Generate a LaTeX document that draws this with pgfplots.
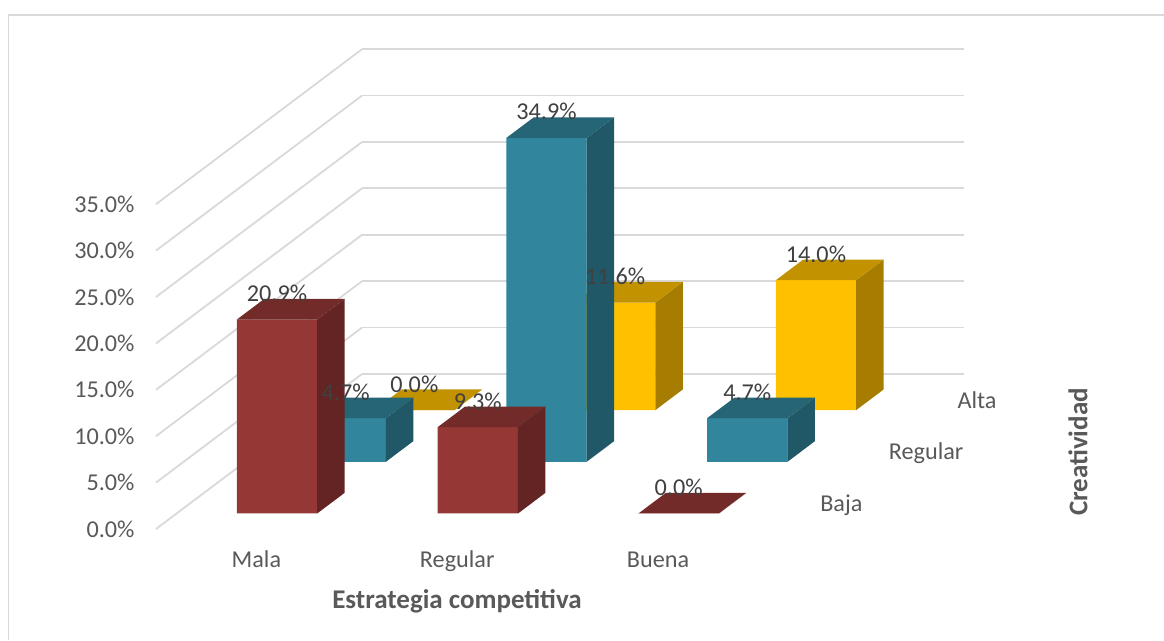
\documentclass[border=0pt]{standalone}
\usepackage{fontspec}
\setmainfont{Carlito}
\usepackage{pgfplots}
\pgfplotsset{compat=1.18}

\definecolor{redfront}{HTML}{953735}
\definecolor{redside}{HTML}{632423}
\definecolor{redtop}{HTML}{722B29}
\definecolor{bluefront}{HTML}{31859C}
\definecolor{blueside}{HTML}{205867}
\definecolor{bluetop}{HTML}{256576}
\definecolor{yellowfront}{HTML}{FFC000}
\definecolor{yellowside}{HTML}{A67D00}
\definecolor{yellowtop}{HTML}{C29200}
\definecolor{labelgray}{HTML}{595959}
\definecolor{valuegray}{HTML}{404040}
\definecolor{wallgray}{HTML}{D9D9D9}

% One block: x from #1 to #2, depth from #3 to #4, height #5, colour prefix #6
\newcommand{\block}[6]{%
  \addplot3[draw=none, fill=#6front, forget plot] coordinates
    {(#1,#3,0) (#2,#3,0) (#2,#3,#5) (#1,#3,#5) (#1,#3,0)};
  \addplot3[draw=none, fill=#6side, forget plot] coordinates
    {(#2,#3,0) (#2,#4,0) (#2,#4,#5) (#2,#3,#5) (#2,#3,0)};
  \addplot3[draw=none, fill=#6top, forget plot] coordinates
    {(#1,#3,#5) (#2,#3,#5) (#2,#4,#5) (#1,#4,#5) (#1,#3,#5)};
}
% Percentage printed above the front face of a block
\newcommand{\valuelabel}[3]{%
  \node[anchor=base, yshift=18pt, text=valuegray, inner sep=0pt,
        font=\fontsize{24.2}{24.2}\selectfont]
    at (axis cs:#1,#2,#3) {\pgfmathprintnumber[fixed, fixed zerofill, precision=1]{#3}\%};
}

\begin{document}
\begin{tikzpicture}[x=1pt,y=1pt]
\useasboundingbox (0,0) rectangle (1164,640);
% Chart frame
\draw[wallgray, line width=1.4pt] (8.7,0) -- (8.7,625) -- (1164,625);

\begin{axis}[
  at={(156pt,111pt)}, anchor=origin,
  x={(200.8pt,0pt)}, y={(68.67pt,51.67pt)}, z={(0pt,9.28pt)},
  xmin=0, xmax=3, ymin=0, ymax=3, zmin=0, zmax=35,
  clip=false,
  axis line style={draw=none},
  tick style={draw=none},
  zmajorgrids=true,
  grid style={wallgray, line width=1.8pt},
  xtick={0.5,1.5,2.5},
  xticklabels={Mala,Regular,Buena},
  ytick={0.5,1.5,2.5},
  yticklabels={Baja,Regular,Alta},
  ztick={0,5,...,35},
  /pgf/number format/assume math mode=true,
  /pgf/number format/fixed,
  /pgf/number format/fixed zerofill,
  /pgf/number format/precision=1,
  zticklabel={\pgfmathprintnumber{\tick}\%},
  ticklabel style={text=labelgray, font=\fontsize{24.2}{24.2}\selectfont},
  xticklabel style={anchor=base, yshift=-38pt},
  yticklabel style={anchor=base west, xshift=24pt, yshift=-8.5pt},
  zticklabel style={anchor=east, xshift=-18pt, yshift=0pt},
]
% Back row: Alta
\block{0.3}{0.7}{2.3}{2.7}{0.0}{yellow}
\block{1.3}{1.7}{2.3}{2.7}{11.6}{yellow}
\block{2.3}{2.7}{2.3}{2.7}{14.0}{yellow}
% Middle row: Regular
\block{0.3}{0.7}{1.3}{1.7}{4.7}{blue}
\block{1.3}{1.7}{1.3}{1.7}{34.9}{blue}
\block{2.3}{2.7}{1.3}{1.7}{4.7}{blue}
% Front row: Baja
\block{0.3}{0.7}{0.3}{0.7}{20.9}{red}
\block{1.3}{1.7}{0.3}{0.7}{9.3}{red}
\block{2.3}{2.7}{0.3}{0.7}{0.0}{red}

\valuelabel{0.5}{2.3}{0.0}
\valuelabel{1.5}{2.3}{11.6}
\valuelabel{2.5}{2.3}{14.0}
\valuelabel{0.5}{1.3}{4.7}
\valuelabel{1.5}{1.3}{34.9}
\valuelabel{2.5}{1.3}{4.7}
\valuelabel{0.5}{0.3}{20.9}
\valuelabel{1.5}{0.3}{9.3}
\valuelabel{2.5}{0.3}{0.0}
\end{axis}

\node[text=labelgray, font=\fontsize{27}{27}\selectfont\bfseries] at (457,39) {Estrategia competitiva};
\node[text=labelgray, font=\fontsize{27}{27}\selectfont\bfseries, rotate=90] at (1078,188) {Creatividad};
\end{tikzpicture}
\end{document}
